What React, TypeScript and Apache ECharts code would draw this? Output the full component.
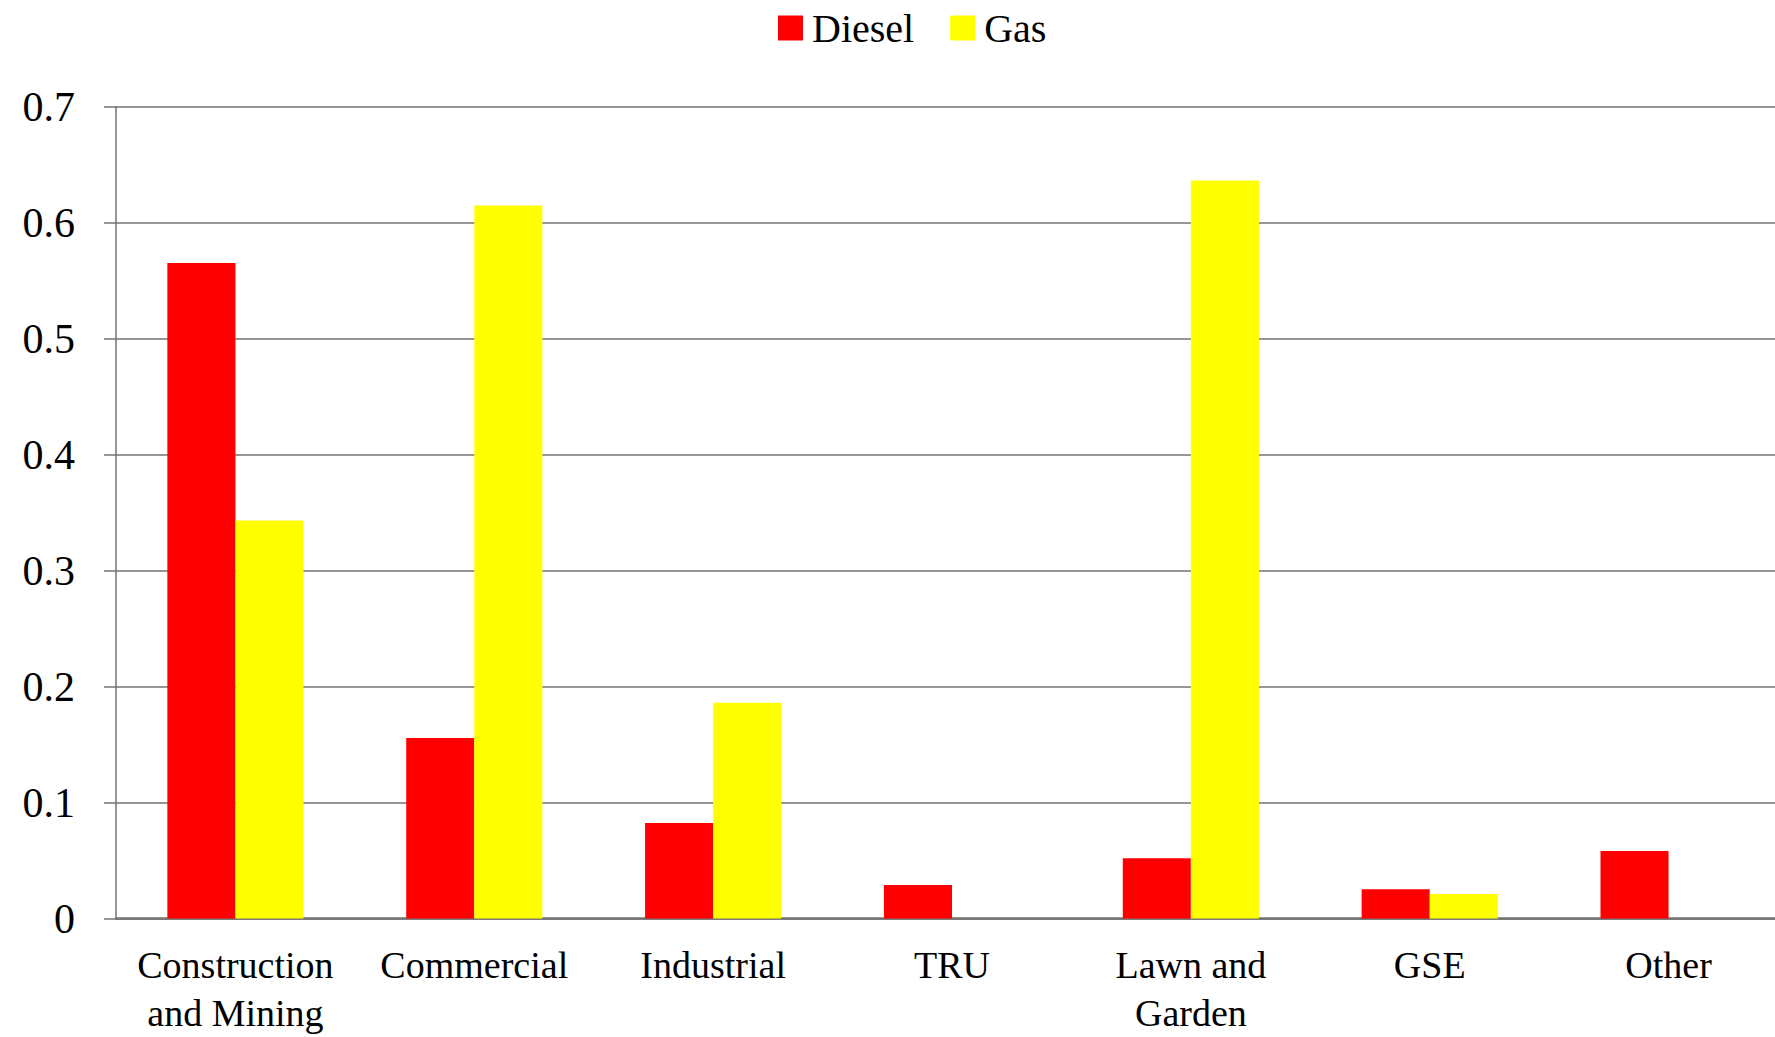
import React, { useEffect, useRef } from "react";
import * as echarts from "echarts";

const categories = [
  "Construction\nand Mining",
  "Commercial",
  "Industrial",
  "TRU",
  "Lawn and\nGarden",
  "GSE",
  "Other",
];
const dieselValues = [0.565, 0.1557, 0.0824, 0.0289, 0.0519, 0.0252, 0.0582];
const gasValues = [0.343, 0.6147, 0.186, 0, 0.6363, 0.0211, 0];
const seriesNames = ["Diesel", "Gas"];

const FONT = "'Liberation Serif', 'DejaVu Serif', serif";

export default function App() {
  const ref = useRef<HTMLDivElement>(null);
  useEffect(() => {
    if (!ref.current) return;
    const chart = echarts.init(ref.current, null, { renderer: "svg" });
    chart.setOption({
      animation: false,
      backgroundColor: "#ffffff",
      textStyle: { fontFamily: FONT },
      legend: {
        left: 773,
        top: 3,
        itemWidth: 25,
        itemHeight: 25,
        itemGap: 36,
        icon: "rect",
        data: seriesNames,
        textStyle: { fontSize: 40, fontFamily: FONT, color: "#000", padding: [0, 0, 0, 4] },
      },
      grid: { left: 116, top: 106.5, height: 812, right: 2, containLabel: false },
      xAxis: {
        type: "category",
        data: categories,
        axisLine: { show: true, lineStyle: { color: "#737373", width: 2.5 } },
        axisTick: { show: false },
        axisLabel: {
          interval: 0,
          margin: 22,
          fontSize: 38,
          lineHeight: 48,
          color: "#000",
          fontFamily: FONT,
        },
      },
      yAxis: {
        type: "value",
        min: 0,
        max: 0.7,
        interval: 0.1,
        axisLine: { show: true, lineStyle: { color: "#737373", width: 1.5 } },
        axisTick: { show: true, length: 12, lineStyle: { color: "#737373", width: 1.5 } },
        splitLine: { show: true, lineStyle: { color: "#737373", width: 1.6 } },
        axisLabel: {
          margin: 41,
          fontSize: 42,
          color: "#000",
          fontFamily: FONT,
          formatter: (v: number) => (v === 0 ? "0" : v.toFixed(1)),
        },
      },
      series: [
        {
          name: seriesNames[0],
          type: "bar",
          data: dieselValues,
          itemStyle: { color: "#ff0000" },
          barGap: "0%",
          barCategoryGap: "43%",
        },
        {
          name: seriesNames[1],
          type: "bar",
          data: gasValues,
          itemStyle: { color: "#ffff00" },
          barGap: "0%",
          barCategoryGap: "43%",
        },
      ],
    });
    return () => chart.dispose();
  }, []);
  return (
    <div
      ref={ref}
      style={{ position: "fixed", left: 0, top: 0, width: 1790, height: 1037 }}
    />
  );
}
